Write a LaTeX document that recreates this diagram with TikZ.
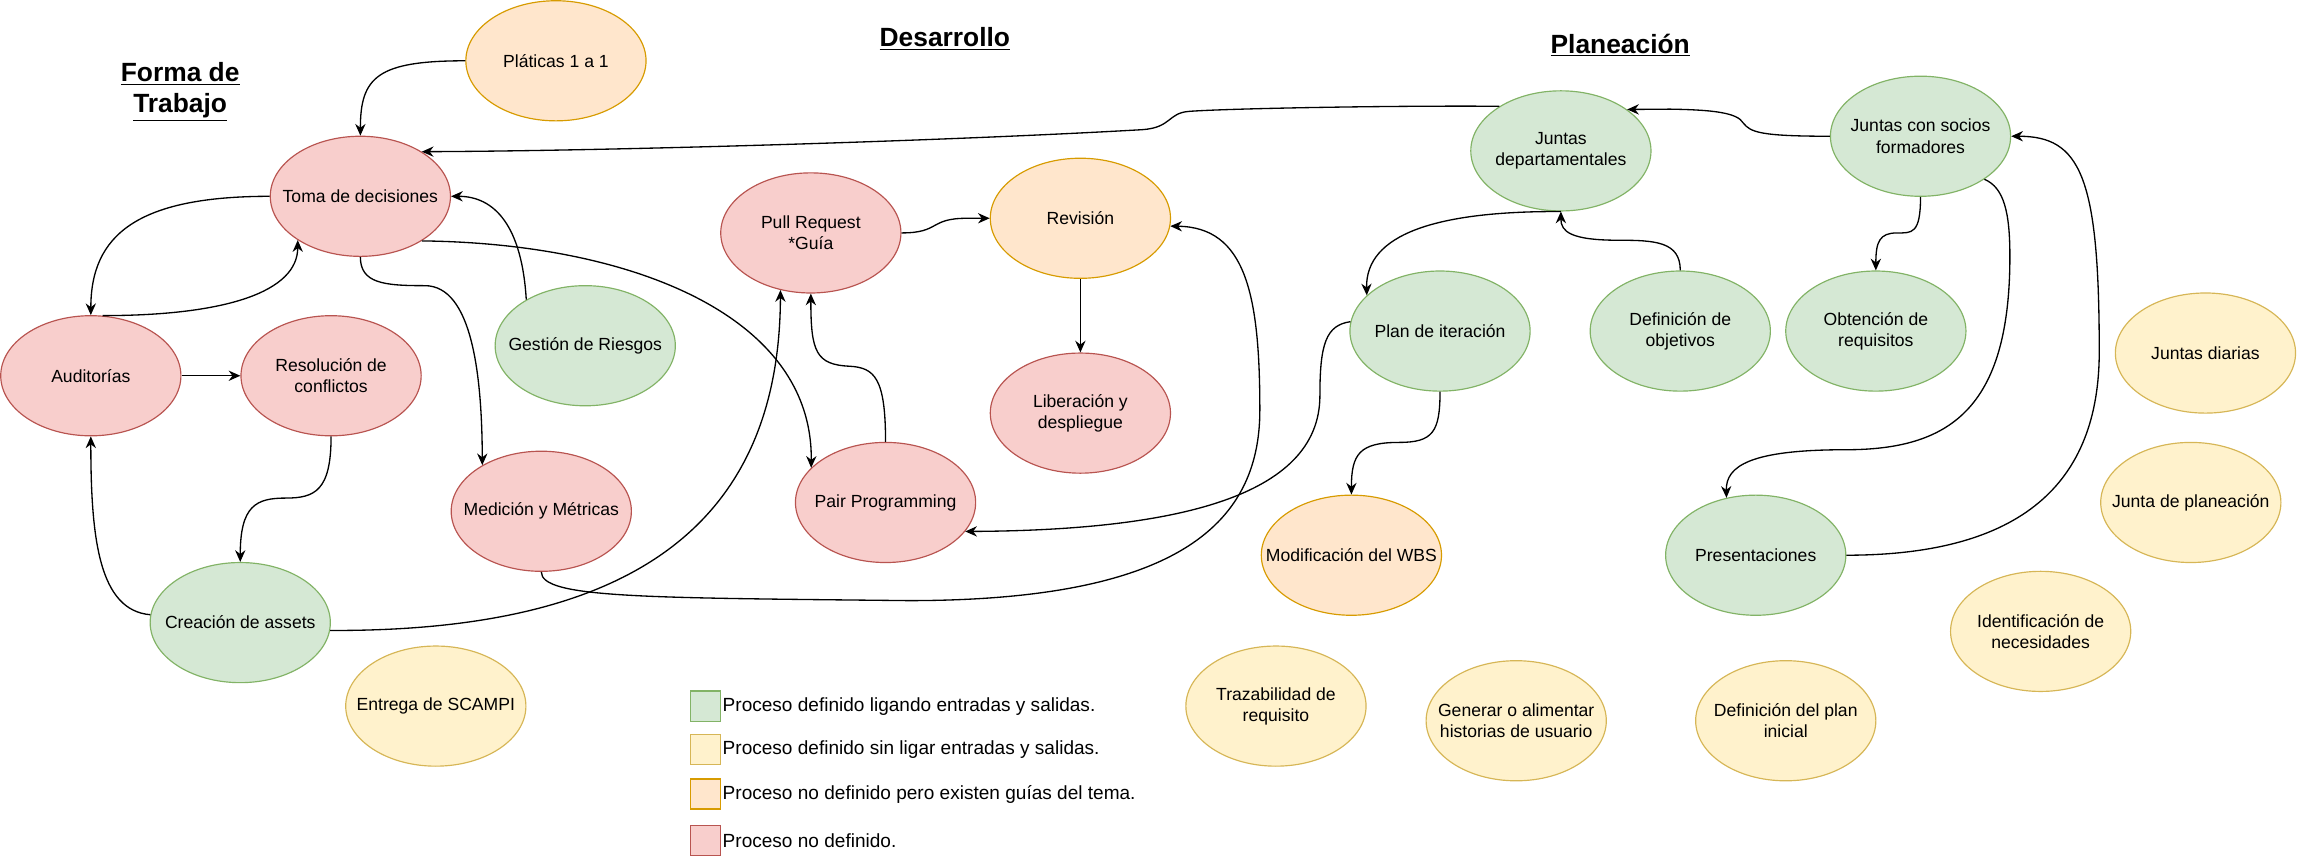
\documentclass[tikz,border=0pt]{standalone}
\usepackage{fontspec}
\setmainfont{Liberation Sans}
\usetikzlibrary{shapes.geometric,arrows.meta}
\definecolor{gfill}{HTML}{D5E8D4}
\definecolor{gline}{HTML}{82B366}
\definecolor{yfill}{HTML}{FFF2CC}
\definecolor{yline}{HTML}{D6B656}
\definecolor{ofill}{HTML}{FFE6CC}
\definecolor{oline}{HTML}{D79B00}
\definecolor{rfill}{HTML}{F8CECC}
\definecolor{rline}{HTML}{B85450}
\newcommand{\procnode}[4]{\node[#1] (#2) at (#3) {}; \node[lbl] at (#2.center) {#4};}
\begin{document}
\begin{tikzpicture}[x=1pt,y=-1pt,
  proc/.style={ellipse,minimum width=123pt,minimum height=82pt,inner sep=0pt,line width=0.8pt},
  pgreen/.style={proc,fill=gfill,draw=gline},
  pyellow/.style={proc,fill=yfill,draw=yline},
  porange/.style={proc,fill=ofill,draw=oline},
  pred/.style={proc,fill=rfill,draw=rline},
  lbl/.style={font=\fontsize{12}{14.5}\selectfont,align=center,inner sep=0pt},
  conn/.style={line width=0.9pt,-{Stealth[length=8pt,width=7pt]}},
  ttl/.style={font=\fontsize{18}{21}\selectfont\bfseries,align=center,inner sep=0pt},
  sq/.style={minimum size=20.5pt,inner sep=0pt,line width=0.8pt},
  legtxt/.style={font=\fontsize{13}{15}\selectfont,anchor=west,inner sep=1pt}]
\useasboundingbox (0,0) rectangle (1568,586);

% titles
\node[ttl] (tforma) at (123,62.5) {\underline{Forma de}\\\underline{Trabajo}};
\node[ttl,anchor=base] (tdes) at (645,32) {\underline{Desarrollo}};
\node[ttl,anchor=base] (tplan) at (1106,36.5) {\underline{Planeación}};

% process nodes
\procnode{porange}{pla}{379.5,41.5}{Pláticas 1 a 1}
\procnode{pred}{toma}{246,134}{Toma de decisiones}
\procnode{pred}{aud}{62,256.5}{Auditorías}
\procnode{pred}{res}{226,256.5}{Resolución de\\conflictos}
\procnode{pgreen}{gest}{399.5,236}{Gestión de Riesgos}
\procnode{pred}{med}{369.5,349}{Medición y Métricas}
\procnode{pgreen}{crea}{164,425}{Creación de assets}
\procnode{pyellow}{scampi}{297.5,482}{Entrega de SCAMPI}
\procnode{pred}{pr}{553.5,159}{Pull Request\\*Guía}
\procnode{porange}{rev}{737.5,149}{Revisión}
\procnode{pred}{lib}{737.5,282}{Liberación y\\despliegue}
\procnode{pred}{pair}{604.5,343}{Pair Programming}
\procnode{pgreen}{jdep}{1065.5,103}{Juntas\\departamentales}
\procnode{pgreen}{socios}{1311,93}{Juntas con socios\\formadores}
\procnode{pgreen}{plan}{983,226}{Plan de iteración}
\procnode{pgreen}{defo}{1147,226}{Definición de\\objetivos}
\procnode{pgreen}{obt}{1280.5,226}{Obtención de\\requisitos}
\procnode{pyellow}{jdia}{1505.5,241}{Juntas diarias}
\procnode{pyellow}{jplan}{1495.5,343}{Junta de planeación}
\procnode{porange}{wbs}{922.5,379}{Modificación del WBS}
\procnode{pgreen}{pres}{1198.5,379}{Presentaciones}
\procnode{pyellow}{ident}{1393,431}{Identificación de\\necesidades}
\procnode{pyellow}{traz}{871,482}{Trazabilidad de\\requisito}
\procnode{pyellow}{gen}{1035,492}{Generar o alimentar\\historias de usuario}
\procnode{pyellow}{defp}{1219,492}{Definición del plan\\inicial}

% connectors
\draw[conn] (pla.west) .. controls +(-60,0) and +(0,-40) .. (toma.north);
\draw[conn] (jdep.144) .. controls (950,72) and (840,74) .. (812,76) .. controls (797,77) and (800,87) .. (780,88.5) .. controls (650,96) and (420,103) .. (toma.36);
\draw[conn] (toma.west) .. controls +(-90,0) and +(0,-55) .. (aud.north);
\draw[conn] (aud.79) .. controls +(85,0) and +(0,35) .. (toma.215);
\draw[conn] (aud.east) -- (res.west);
\draw[conn] (res.south) .. controls +(0,37) and (215,340) .. (195,340) .. controls (175,340) and (164,345) .. (crea.north);
\draw[conn] (crea.175) .. controls +(-35,-3) and +(0,70) .. (aud.south);
\draw[conn] (gest.142) .. controls +(-3,-50) and +(30,0) .. (toma.east);
\draw[conn] (toma.south) .. controls +(0,18) and (262,195) .. (290,195) .. controls (322,195) and (329,255) .. (med.142);
\draw[conn] (toma.-36) .. controls (430,166) and (555,215) .. (pair.155);
\draw[conn] (crea.-5) .. controls (400,431) and (532,380) .. (pr.242);
\draw[conn] (med.south) .. controls +(0,18) and (440,408) .. (620,410) .. controls (800,410) and (860,360) .. (860,280) .. controls (860,200) and (850,155) .. (rev.-5);
\draw[conn] (pair.north) .. controls (604.5,258) and (597,251) .. (580,250) .. controls (557,249) and (553.5,240) .. (pr.south);
\draw[conn] (pr.east) .. controls (642,159) and (634,149) .. (660,149) -- (rev.west);
\draw[conn] (rev.south) -- (lib.north);
\draw[conn] (jdep.south) .. controls (980,144) and (932,160) .. (plan.154);
\draw[conn] (defo.north) .. controls (1147,165) and (1130,164) .. (1105,164) .. controls (1072,164) and (1065.5,158) .. (jdep.south);
\draw[conn] (socios.west) .. controls (1200,93) and (1195,90) .. (1190,84) .. controls (1186,77) and (1170,75) .. (1140,74.5) -- (jdep.32);
\draw[conn] (socios.south) .. controls (1311,160) and (1305,159) .. (1295,159) .. controls (1283,159) and (1280.5,165) .. (obt.north);
\draw[conn] (socios.-34) .. controls (1368,128) and (1372,145) .. (1372,175) .. controls (1372,280) and (1330,307) .. (1260,307) .. controls (1195,307) and (1178,318) .. (pres.117);
\draw[conn] (pres.east) .. controls (1380,379) and (1433,330) .. (1433,240) .. controls (1433,120) and (1420,93) .. (socios.east);
\draw[conn] (plan.174) .. controls (905,222) and (901,235) .. (901,270) .. controls (901,340) and (800,362) .. (pair.-20);
\draw[conn] (plan.south) .. controls (983,295) and (978,302) .. (955,302) .. controls (928,302) and (922.5,310) .. (wbs.north);

% legend
\node[sq,fill=gfill,draw=gline] (lg1) at (481.5,482) {};
\node[legtxt] (lt1) at (lg1.east) {Proceso definido ligando entradas y salidas.};
\node[sq,fill=yfill,draw=yline] (lg2) at (481.5,511.5) {};
\node[legtxt] (lt2) at (lg2.east) {Proceso definido sin ligar entradas y salidas.};
\node[sq,fill=ofill,draw=oline] (lg3) at (481.5,542) {};
\node[legtxt] (lt3) at (lg3.east) {Proceso no definido pero existen guías del tema.};
\node[sq,fill=rfill,draw=rline] (lg4) at (481.5,574) {};
\node[legtxt] (lt4) at (lg4.east) {Proceso no definido.};
\end{tikzpicture}
\end{document}
